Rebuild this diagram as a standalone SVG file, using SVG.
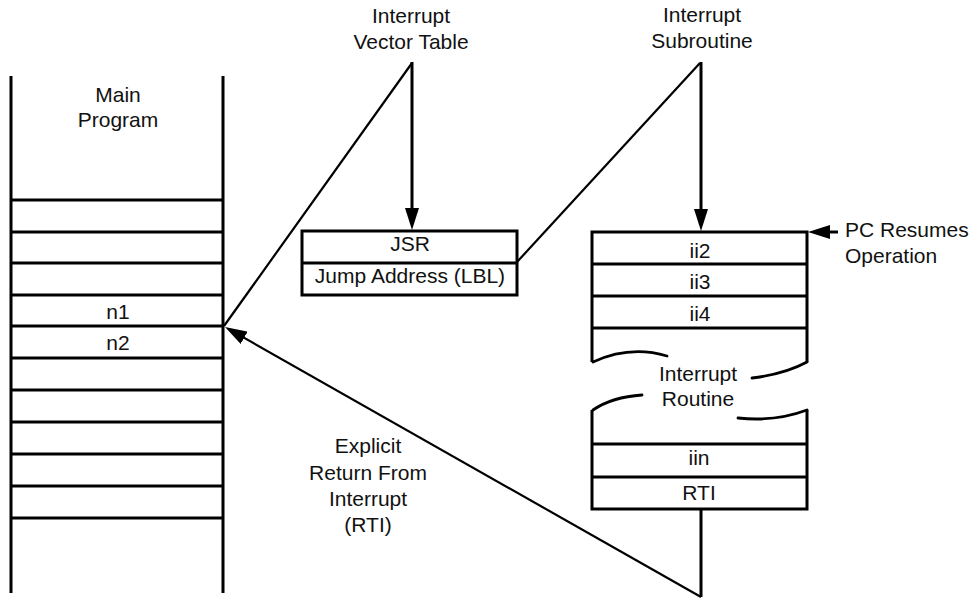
<svg xmlns="http://www.w3.org/2000/svg" width="977" height="600" viewBox="0 0 977 600">
<style>
  .box { fill: none; stroke: #000; stroke-width: 3; }
  .thin { fill: none; stroke: #000; stroke-width: 2.2; }
  .wave { fill: none; stroke: #000; stroke-width: 2.8; stroke-linecap: round; }
  .arr { fill: none; stroke: #000; stroke-width: 3; }
  text { font-family: "Liberation Sans", Arial, Helvetica, sans-serif; font-size: 21px; fill: #111; text-anchor: middle; }
  text.left { text-anchor: start; }
</style>
<defs>
  <marker id="ah" viewBox="0 0 22 14" markerWidth="22" markerHeight="14" refX="12" refY="7" orient="auto" markerUnits="userSpaceOnUse">
    <path d="M0,0 L22,7 L0,14 Z" fill="#000"/>
  </marker>
</defs>
<rect width="977" height="600" fill="#fff"/>

<g id="main-program">
  <path class="box" d="M11,76 V593 M223,76 V593 M11,200 H223 M11,232 H223 M11,263 H223 M11,295 H223 M11,326 H223 M11,358 H223 M11,390 H223 M11,422 H223 M11,454 H223 M11,486 H223 M11,518 H223"/>
  <text x="118" y="102">Main</text>
  <text x="118" y="127">Program</text>
  <text x="118" y="319">n1</text>
  <text x="118" y="350">n2</text>
</g>

<g id="vector-table">
  <text x="411" y="23">Interrupt</text>
  <text x="411" y="49">Vector Table</text>
  <rect class="box" x="302" y="231" width="215" height="64"/>
  <path class="box" d="M302,263 H517"/>
  <text x="410" y="251">JSR</text>
  <text x="410" y="283">Jump Address (LBL)</text>
</g>

<g id="subroutine">
  <text x="702" y="22">Interrupt</text>
  <text x="702" y="48">Subroutine</text>
  <path class="box" d="M592,362 V232 H807 V362 M592,264 H807 M592,296 H807 M592,328 H807"/>
  <path class="box" d="M592,410 V509 H807 V410 M592,444 H807 M592,477 H807"/>
  <path class="wave" d="M593,362 Q630,345 667,356 M752,378 Q785,374 807,362 M593,410 Q612,397 642,395 M738,418 Q775,422 807,410"/>
  <text x="700" y="258">ii2</text>
  <text x="700" y="289">ii3</text>
  <text x="700" y="321">ii4</text>
  <text x="698" y="381">Interrupt</text>
  <text x="698" y="406">Routine</text>
  <text x="699" y="465">iin</text>
  <text x="699" y="500">RTI</text>
</g>

<g id="pc-resumes">
  <text class="left" x="845" y="237">PC Resumes</text>
  <text class="left" x="845" y="263">Operation</text>
</g>

<g id="rti-label">
  <text x="368" y="453">Explicit</text>
  <text x="368" y="480">Return From</text>
  <text x="368" y="506">Interrupt</text>
  <text x="368" y="532">(RTI)</text>
</g>

<g id="connectors">
  <path class="thin" d="M224,326 L412,63"/>
  <path class="thin" d="M517,262 L700,63"/>
  <path class="arr" d="M412,62 V220" marker-end="url(#ah)"/>
  <path class="arr" d="M701,62 V221" marker-end="url(#ah)"/>
  <path class="arr" d="M838,232 H818" marker-end="url(#ah)"/>
  <path class="arr" d="M701,509 V597"/>
  <path class="thin" d="M701,597 L233.7,331.9" marker-end="url(#ah)"/>
</g>
</svg>
